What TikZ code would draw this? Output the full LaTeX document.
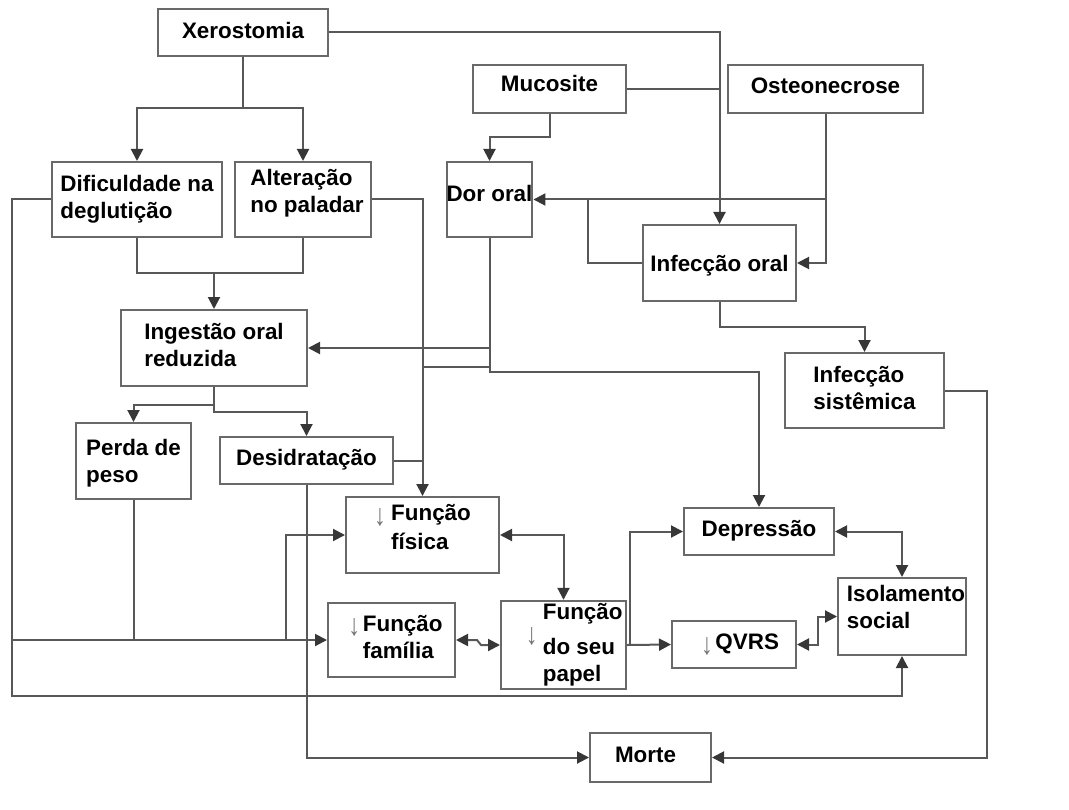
\documentclass[tikz,border=0pt]{standalone}
\usepackage{fontspec}
\setmainfont{Liberation Sans}
\newfontfamily\arrfont{Liberation Sans}
\usetikzlibrary{arrows.meta,calc}
\definecolor{boxc}{RGB}{105,105,105}
\definecolor{linec}{RGB}{88,88,88}
\definecolor{tipc}{RGB}{55,55,55}
\definecolor{arrc}{RGB}{115,115,115}
\newcommand\da{{\arrfont\mdseries\fontsize{16.8}{16.8}\selectfont\color{arrc}\scalebox{1.05}[1.35]{↓}}}
\newcommand\tb[1]{\begin{tabular}{@{}l@{}}#1\end{tabular}}
\newcommand\upby[2]{\raisebox{0pt}[\height][\dimexpr\depth+#1+#1\relax]{#2}}
\newcommand\dnby[2]{\raisebox{0pt}[\dimexpr\height+#1+#1\relax][\depth]{#2}}
\newcommand\rtby[2]{\hspace*{\dimexpr#1+#1\relax}#2}
\newcommand\ltby[2]{#2\hspace*{\dimexpr#1+#1\relax}}
\tikzset{
  box/.style={draw=boxc, line width=1.5pt, fill=white, inner sep=0pt, anchor=center,
    font=\bfseries\fontsize{16.8}{20.25}\selectfont},
  wh/.style 2 args={minimum width=#1*0.75pt, minimum height=#2*0.75pt},
  conn/.style={draw=linec, line width=1.5pt},
  tip/.tip={Triangle[length=9pt,width=9pt,color=tipc]},
  arr/.style={conn, -tip},
  arr2/.style={conn, tip-tip},
}
\begin{document}
\begin{tikzpicture}[x=0.75pt,y=-0.75pt]
\useasboundingbox (0,0) rectangle (1069,809);
% boxes
\node[box, wh={170}{47}] (xero) at (243,32.5) {\dnby{0.75pt}{\tb{Xerostomia}}};
\node[box, wh={153}{48}] (muc) at (549.5,89) {\upby{2.25pt}{\tb{Mucosite}}};
\node[box, wh={195}{48}] (ost) at (825.5,89) {\upby{1pt}{\tb{Osteonecrose}}};
\node[box, wh={170}{75}] (dif) at (137,199.5) {\tb{Dificuldade na\\deglutição}};
\node[box, wh={136}{75}] (alt) at (303,199.5) {\upby{4.5pt}{\rtby{3pt}{\tb{Alteração\\no paladar}}}};
\node[box, wh={85}{75}] (dor) at (489.5,199.5) {\upby{2.5pt}{\tb{Dor oral}}};
\node[box, wh={153}{76}] (infor) at (719.5,263) {\dnby{2.25pt}{\tb{Infecção oral}}};
\node[box, wh={186}{76}] (ing) at (214,348) {\tb{Ingestão oral\\reduzida}};
\node[box, wh={159}{75}] (sis) at (864.5,390.5) {\tb{Infecção\\sistêmica}};
\node[box, wh={115}{76}] (per) at (133.5,461) {\dnby{2.25pt}{\tb{Perda de\\peso}}};
\node[box, wh={173}{47}] (des) at (306.5,460.5) {\tb{Desidratação}};
\node[box, wh={153}{76}] (fis) at (422.5,535) {\upby{4pt}{\begin{tabular}{@{}l@{\hspace{4pt}}l@{}}\raisebox{-3.5pt}{\da}&Função\\[1.5pt]&física\end{tabular}}};
\node[box, wh={150}{47}] (dep) at (759,531.5) {\tb{Depressão}};
\node[box, wh={128}{77}] (iso) at (902,616.5) {\upby{5.25pt}{\rtby{3pt}{\tb{Isolamento\\social}}}};
\node[box, wh={127}{74}] (fam) at (391.5,640) {\rtby{3pt}{\begin{tabular}{@{}l@{\hspace{2pt}}l@{}}\raisebox{-3pt}{\da}&Função\\&família\end{tabular}}};
\node[box, wh={125}{76}] (pap) at (563.5,645) {\rtby{8pt}{\begin{tabular}{@{}l@{\hspace{4pt}}l@{}}&Função\\\raisebox{7pt}{\da}&do seu\\&papel\end{tabular}}};
\node[box, wh={124}{47}] (qv) at (734,644.5) {\rtby{4.5pt}{\tb{\raisebox{-3.5pt}{\da}\hspace{2pt}QVRS}}};
\node[box, wh={121}{49}] (mor) at (650.5,757.5) {\ltby{3.75pt}{\tb{Morte}}};
% connectors
\draw[arr] (xero.east) -| (infor.north);
\draw[conn] (muc.east) -- (muc.east -| infor.north);
\coordinate (j1) at (243,108);
\draw[arr] (xero.south) -- (j1) -| (dif.north);
\draw[arr] (j1) -| (alt.north);
\coordinate (j2) at (214,273);
\draw[conn] (dif.south) |- (j2) -| (alt.south);
\draw[arr] (j2) -- (ing.north);
\draw[arr] (muc.south) -- ++(0,23) -| (dor.north);
\draw[arr] (ost.south) |- (infor.east);
\draw[arr] (ost.south |- dor.east) -- (dor.east);
\coordinate (j7) at (588,199.5);
\draw[conn] (infor.west) -| (j7);
\draw[arr] (infor.south) -- ++(0,25) -| (sis.north);
\draw[arr] (alt.east) -| (fis.north);
\draw[arr] (dor.south) |- (ing.east);
\coordinate (j3) at (489.5,367);
\draw[conn] (j3) -- (j3 -| fis.north);
\coordinate (j4) at (489.5,372);
\draw[arr] (dor.south) -- (j4) -| (dep.north);
\coordinate (j5) at (214,405);
\draw[arr] (ing.south) -- (j5) -| (per.north);
\coordinate (j6) at (214,412);
\draw[arr] (j5) -- (j6) -| (des.north);
\draw[conn] (des.east) -- (des.east -| fis.north);
\draw[arr] (des.south) |- (mor.west);
\draw[conn] (per.south) -- (per.south |- fam.west);
\coordinate (l1) at (12,199.5);
\coordinate (l2) at (12,696);
\draw[arr] (dif.west) -- (l1) -- (l2) -| (iso.south);
\coordinate (l3) at (12,640);
\draw[arr] (l3) -- (fam.west);
\coordinate (l4) at (286,640);
\draw[arr] (l4) |- (fis.west);
\draw[arr2] (fis.east) -| (pap.north);
\draw[arr2] (fam.east) -- ++(21,0) -- ++(4,5) -- (pap.west);
\draw[arr] (pap.east) -- (qv.west);
\draw[arr] ($(pap.east)+(3,0)$) |- (dep.west);
\draw[arr2] (dep.east) -| (iso.north);
\draw[arr2] (qv.east) -- ++(21,0) |- (iso.west);
\draw[arr] (sis.east) -- ++(42,0) |- (mor.east);
\end{tikzpicture}
\end{document}
